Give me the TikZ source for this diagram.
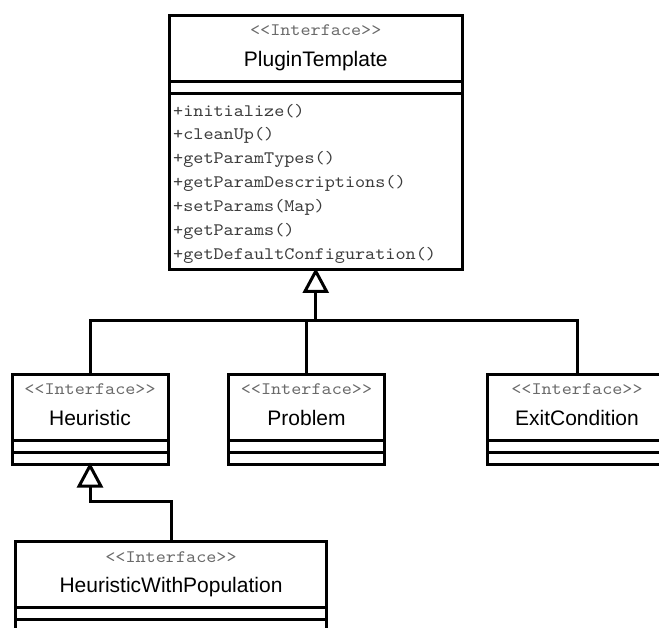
\documentclass[tikz,border=0pt]{standalone}
\usepackage{fontspec}
\setmainfont{Liberation Sans}
\newfontfamily\umlmono[FakeStretch=1.1]{lmmono10-regular.otf}
\usetikzlibrary{arrows.meta,calc}

\definecolor{stereogray}{HTML}{6A6A6A}
\definecolor{opgray}{HTML}{3C3C3C}

\begin{document}
\begin{tikzpicture}[x=1pt, y=-1pt,
  umlclass/.style={draw, rectangle, line width=3pt, inner sep=0pt, outer sep=0pt},
  stereo/.style={anchor=base, inner sep=0pt, text=stereogray,
    font=\umlmono\fontsize{17.5}{20}\selectfont},
  cname/.style={anchor=base, inner sep=0pt, font=\fontsize{21}{24}\selectfont},
  op/.style={anchor=west, inner sep=0pt, text=opgray,
    font=\umlmono\fontsize{17.5}{20}\selectfont},
  compsep/.style={line width=3pt},
  link/.style={line width=3pt},
  inherits/.style={link, shorten >=-1.5pt,
    -{Triangle[open, length=25pt, width=26pt]}}
]
\useasboundingbox (0,0) rectangle (659,628);
\clip (0,0) rectangle (659,628);

% class boxes
\node[umlclass, minimum width=293.5pt, minimum height=254pt]  (plug) at (315.75,142.5) {};
\node[umlclass, minimum width=156pt,   minimum height=89.5pt] (heur) at (90,419.25) {};
\node[umlclass, minimum width=155.6pt, minimum height=89.5pt] (prob) at (306.5,419.25) {};
\node[umlclass, minimum width=180pt,   minimum height=89.5pt] (exit) at (577,419.25) {};
\node[umlclass, minimum width=311.4pt, minimum height=89.8pt] (hwp)  at (171,586.6) {};

% compartment separators
\foreach \c in {plug,heur,prob,exit,hwp} {
  \draw[compsep] ($(\c.north west)+(0,66)$) -- ($(\c.north east)+(0,66)$);
  \draw[compsep] ($(\c.north west)+(0,78)$) -- ($(\c.north east)+(0,78)$);
}

% stereotypes and names
\foreach \c/\n in {plug/PluginTemplate, heur/Heuristic, prob/Problem,
                   exit/ExitCondition, hwp/HeuristicWithPopulation} {
  \node[stereo] (\c-st) at ($(\c.north)+(0,20.5)$) {\textless\textless{}Interface\textgreater\textgreater};
  \node[cname]  (\c-nm) at ($(\c.north)+(0,51)$) {\n};
}

% operations of PluginTemplate
\foreach \t [count=\i from 0] in {+initialize(), +cleanUp(), +getParamTypes(),
    +getParamDescriptions(), +setParams(Map), +getParams(),
    +getDefaultConfiguration()} {
  \node[op] (plug-op\i) at ($(plug.north west)+(4,96+24*\i)$) {\t};
}

% generalisation connectors
\coordinate (bus)  at (315.75,321);
\coordinate (bus2) at (90,501.7);
\draw[inherits] (heur.north) |- (bus) -- (plug.south);
\draw[link] (prob.north) -- (prob.north |- bus);
\draw[link] (exit.north) |- (bus);
\draw[inherits] (hwp.north) |- (bus2) -- (heur.south);
\end{tikzpicture}
\end{document}
